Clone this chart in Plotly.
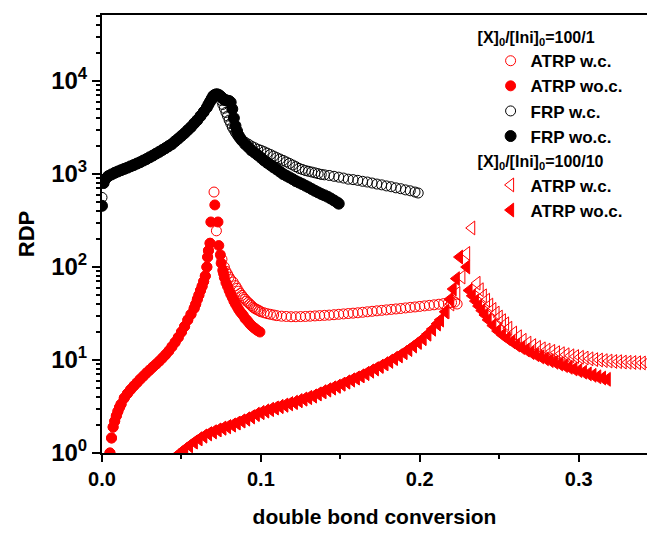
import plotly.graph_objects as go

# ---------------- data ----------------
# shared rising part of the FRP curves (100/1)
frp_rise_x = [0.001, 0.002, 0.004, 0.006, 0.008, 0.010, 0.012, 0.014, 0.016, 0.018, 0.020, 0.022,
              0.024, 0.026, 0.028, 0.030, 0.032, 0.034, 0.036, 0.038, 0.040, 0.042, 0.044, 0.046,
              0.048, 0.050, 0.052, 0.054, 0.056, 0.058, 0.060, 0.062, 0.064, 0.066, 0.067, 0.068,
              0.069, 0.070, 0.071, 0.072]
frp_rise_y = [800, 880, 950, 990, 1030, 1065, 1100, 1135, 1170, 1210, 1250, 1295,
              1340, 1395, 1450, 1515, 1580, 1655, 1730, 1815, 1900, 2000, 2100, 2250,
              2400, 2570, 2750, 2970, 3200, 3500, 3800, 4200, 4650, 5200, 5600, 6000,
              6450, 6900, 7100, 7200]

# FRP wo.c. (filled black)
frp_woc_x = [0.000] + frp_rise_x + [
    0.073, 0.074, 0.075, 0.076, 0.077, 0.078, 0.079, 0.080, 0.081, 0.082, 0.083, 0.084,
    0.085, 0.086, 0.087, 0.088, 0.090, 0.092, 0.094, 0.096, 0.098, 0.100, 0.102, 0.104,
    0.106, 0.108, 0.110, 0.112, 0.114, 0.116, 0.118, 0.120, 0.122, 0.124, 0.126, 0.128,
    0.130, 0.132, 0.134, 0.136, 0.138, 0.140, 0.142, 0.144, 0.146, 0.148, 0.149]
frp_woc_y = [455] + frp_rise_y + [
    7150, 7000, 6750, 6500, 6300, 6200, 6150, 6100, 5900, 5000, 4000, 3300,
    2900, 2600, 2430, 2300, 2100, 1950, 1800, 1700, 1600, 1500, 1400, 1320,
    1250, 1180, 1120, 1060, 1000, 960, 920, 880, 840, 810, 780, 750,
    720, 690, 660, 635, 610, 590, 570, 545, 520, 495, 480]

# FRP w.c. (open black)
frp_wc_x = [0.000] + frp_rise_x + [
    0.073, 0.074, 0.075, 0.076, 0.077, 0.078, 0.079, 0.080, 0.081, 0.082, 0.083, 0.084,
    0.085, 0.086, 0.088, 0.090, 0.092, 0.094, 0.096, 0.098, 0.100, 0.102, 0.104, 0.106,
    0.108, 0.110, 0.112, 0.114, 0.116, 0.118, 0.120, 0.122, 0.124, 0.126, 0.128, 0.130,
    0.132, 0.134, 0.136, 0.138, 0.140, 0.143, 0.146, 0.149, 0.152, 0.155, 0.158, 0.161,
    0.164, 0.167, 0.170, 0.173, 0.176, 0.179, 0.182, 0.185, 0.188, 0.191, 0.194, 0.197,
    0.199]
frp_wc_y = [560] + frp_rise_y + [
    7100, 6800, 6200, 5600, 5100, 4600, 4200, 3800, 3500, 3200, 3000, 2800,
    2650, 2500, 2330, 2200, 2100, 2000, 1920, 1850, 1800, 1740, 1680, 1620,
    1560, 1500, 1450, 1400, 1350, 1300, 1250, 1200, 1150, 1120, 1090, 1070,
    1050, 1030, 1010, 990, 980, 965, 945, 925, 905, 880, 870, 855,
    835, 820, 800, 780, 765, 745, 730, 710, 695, 675, 660, 640,
    625]

# shared rising part of the ATRP curves (100/1)
atrp1_rise_x = [0.005, 0.006, 0.007, 0.008, 0.009, 0.010, 0.011, 0.012, 0.014, 0.016, 0.018, 0.020,
                0.022, 0.024, 0.026, 0.028, 0.030, 0.032, 0.034, 0.036, 0.038, 0.040, 0.042, 0.044,
                0.046, 0.048, 0.050, 0.052, 0.054, 0.056, 0.058, 0.059, 0.060, 0.061, 0.062, 0.063,
                0.064, 0.065, 0.066, 0.0665, 0.067, 0.068]
atrp1_rise_y = [1.0, 1.45, 1.9, 2.2, 2.5, 2.8, 3.1, 3.35, 3.9, 4.35, 4.8, 5.25,
                5.7, 6.2, 6.7, 7.25, 7.8, 8.4, 9.0, 9.7, 10.5, 11.4, 12.5, 13.9,
                15.5, 17.5, 20, 23, 27, 31, 36, 40, 45, 50, 56, 62,
                70, 80, 100, 128, 150, 180]

# ATRP wo.c. 100/1 (filled red circles)
atrp1_woc_x = atrp1_rise_x + [
    0.0685, 0.071, 0.073, 0.0735, 0.0745, 0.075, 0.076, 0.0765, 0.077, 0.078, 0.079, 0.080,
    0.081, 0.082, 0.083, 0.084, 0.085, 0.086, 0.087, 0.088, 0.089, 0.090, 0.091, 0.092,
    0.093, 0.094, 0.095, 0.096, 0.097, 0.098, 0.0994]
atrp1_woc_y = atrp1_rise_y + [
    305, 465, 305, 170, 135, 110, 92, 85, 77, 68, 62, 56,
    51, 47, 43, 40, 37.5, 35, 33, 31.5, 30, 28, 27, 25.8,
    24.5, 23.5, 22.7, 22, 21.3, 20.7, 20]

# ATRP w.c. 100/1 (open red circles)
atrp1_wc_x = atrp1_rise_x + [
    0.0705, 0.072, 0.0755, 0.077, 0.078, 0.079, 0.080, 0.081, 0.0825, 0.084, 0.085, 0.086,
    0.087, 0.088, 0.089, 0.090, 0.091, 0.092, 0.093, 0.094, 0.095, 0.096, 0.097, 0.098,
    0.099, 0.100, 0.102, 0.104, 0.106, 0.108, 0.110, 0.113, 0.116, 0.119, 0.122, 0.125,
    0.128, 0.131, 0.134, 0.137, 0.140, 0.143, 0.146, 0.149, 0.152, 0.155, 0.158, 0.161,
    0.164, 0.167, 0.170, 0.173, 0.176, 0.179, 0.182, 0.185, 0.188, 0.191, 0.194, 0.197,
    0.200, 0.203, 0.206, 0.209, 0.212, 0.215, 0.218, 0.220, 0.222, 0.2235]
atrp1_wc_y = atrp1_rise_y + [
    640, 245, 121, 100, 90, 84, 78, 73, 69, 63, 59, 55,
    52, 49.5, 47, 45, 43, 41.5, 40, 38.5, 37, 36, 35.2, 34.5,
    33.8, 33, 32.2, 31.5, 31, 30.5, 30, 29.6, 29.4, 29.2, 29.2, 29.3,
    29.4, 29.6, 29.8, 30, 30.2, 30.4, 30.7, 31, 31.3, 31.6, 31.9, 32.2,
    32.6, 33, 33.4, 33.8, 34.2, 34.6, 35, 35.4, 35.8, 36.3, 36.8, 37.2,
    37.7, 38.2, 38.7, 39.2, 39.8, 40.4, 41, 41.5, 42, 40]

# shared rising part of the ATRP curves (100/10)
atrp10_rise_x = [0.049, 0.052, 0.055, 0.058, 0.061, 0.064, 0.067, 0.070, 0.073, 0.076, 0.079, 0.082,
                 0.085, 0.088, 0.091, 0.094, 0.097, 0.100, 0.103, 0.106, 0.109, 0.112, 0.115, 0.118,
                 0.121, 0.124, 0.127, 0.130, 0.133, 0.136, 0.139, 0.142, 0.145, 0.148, 0.151, 0.154,
                 0.157, 0.160, 0.163, 0.166, 0.169, 0.172, 0.175, 0.178, 0.181, 0.184, 0.187, 0.190,
                 0.193, 0.196, 0.199, 0.202, 0.205, 0.208, 0.211, 0.213]
atrp10_rise_y = [1.0, 1.1, 1.2, 1.31, 1.42, 1.52, 1.61, 1.69, 1.77, 1.85, 1.92, 2.0,
                 2.1, 2.21, 2.32, 2.45, 2.6, 2.72, 2.83, 2.94, 3.05, 3.16, 3.27, 3.39,
                 3.5, 3.65, 3.8, 3.95, 4.1, 4.32, 4.55, 4.77, 5.0, 5.22, 5.5, 5.8,
                 6.1, 6.4, 6.75, 7.15, 7.6, 8.05, 8.55, 9.1, 9.7, 10.4, 11.1, 12.0,
                 13.0, 14.2, 15.5, 17.0, 19.0, 21.5, 24.5, 27]

# ATRP wo.c. 100/10 (filled red triangles)
atrp10_woc_x = atrp10_rise_x + [
    0.216, 0.219, 0.221, 0.223, 0.225, 0.2295, 0.231, 0.233, 0.235, 0.237, 0.239, 0.241,
    0.243, 0.246, 0.249, 0.252, 0.255, 0.258, 0.261, 0.264, 0.267, 0.270, 0.273, 0.276,
    0.279, 0.282, 0.285, 0.288, 0.291, 0.294, 0.297, 0.300, 0.303, 0.306, 0.309, 0.312,
    0.315, 0.318]
atrp10_woc_y = atrp10_rise_y + [
    33, 45, 58, 75, 128, 100, 56, 49, 43, 38, 34, 30.5,
    27, 23.5, 20.5, 18.5, 17, 15.7, 14.5, 13.6, 12.8, 12.0, 11.4, 10.8,
    10.3, 9.85, 9.45, 9.05, 8.7, 8.35, 8.0, 7.7, 7.4, 7.1, 6.85, 6.6,
    6.4, 6.2]

# ATRP w.c. 100/10 (open red triangles)
atrp10_wc_x = atrp10_rise_x + [
    0.2165, 0.2195, 0.2233, 0.2265, 0.2295, 0.2327, 0.236, 0.238, 0.240, 0.242, 0.244, 0.246,
    0.248, 0.250, 0.252, 0.254, 0.256, 0.259, 0.262, 0.265, 0.268, 0.271, 0.274, 0.277,
    0.280, 0.283, 0.286, 0.289, 0.292, 0.295, 0.298, 0.301, 0.304, 0.307, 0.310, 0.313,
    0.316, 0.319, 0.322, 0.325, 0.328, 0.331, 0.334, 0.337, 0.340, 0.343]
atrp10_wc_y = atrp10_rise_y + [
    33, 40, 52, 78, 140, 263, 67, 57, 49, 44, 39, 35,
    32, 29, 26.5, 24.5, 22, 19.5, 17.8, 16.3, 15.2, 14.3, 13.7, 13.2,
    12.8, 12.4, 12.0, 11.7, 11.4, 11.1, 10.9, 10.7, 10.5, 10.3, 10.1, 10.0,
    9.85, 9.75, 9.65, 9.6, 9.5, 9.45, 9.4, 9.35, 9.3, 9.25]

y_tickvals = [1, 10, 100, 1000, 10000]
y_ticktext = ["10<sup>0</sup>", "10<sup>1</sup>", "10<sup>2</sup>", "10<sup>3</sup>", "10<sup>4</sup>"]
x_tickvals = [0.0, 0.1, 0.2, 0.3]
x_ticktext = ["0.0", "0.1", "0.2", "0.3"]
x_minor = [0.05, 0.15, 0.25]

g1 = "[X]<sub>0</sub>/[Ini]<sub>0</sub>=100/1"
g2 = "[X]<sub>0</sub>/[Ini]<sub>0</sub>=100/10"

RED = "#ff0000"
BLACK = "#000000"
FONT = "Liberation Sans, Arial, sans-serif"

fig = go.Figure()


def add(x, y, name, symbol, color, size, group, gtitle=None):
    tr = go.Scatter(
        x=x, y=y, mode="markers", name=name, legendgroup=group,
        marker=dict(symbol=symbol, color=color, size=size,
                    line=dict(color=color, width=1)),
    )
    if gtitle:
        tr.legendgrouptitle = dict(text=gtitle, font=dict(family=FONT, size=16, color="black", weight="bold"))
    fig.add_trace(tr)


add(atrp1_wc_x, atrp1_wc_y, "ATRP w.c.", "circle-open", RED, 10, "g1", g1)
add(atrp1_woc_x, atrp1_woc_y, "ATRP wo.c.", "circle", RED, 10, "g1")
add(frp_wc_x, frp_wc_y, "FRP w.c.", "circle-open", BLACK, 10, "g1")
add(frp_woc_x, frp_woc_y, "FRP wo.c.", "circle", BLACK, 11, "g1")
add(atrp10_wc_x, atrp10_wc_y, "ATRP w.c.", "triangle-left-open", RED, 12, "g2", g2)
add(atrp10_woc_x, atrp10_woc_y, "ATRP wo.c.", "triangle-left", RED, 12, "g2")

minor_y = []
for d in [1, 10, 100, 1000, 10000]:
    for m in range(2, 10):
        v = d * m
        if v < 10 ** 4.71:
            minor_y.append(v)

fig.update_layout(
    width=647, height=536,
    margin=dict(l=102, r=0, t=15, b=83),
    paper_bgcolor="white", plot_bgcolor="white",
    font=dict(family=FONT, color="black"),
    showlegend=True,
    legend=dict(
        x=0.68, y=0.99, xanchor="left", yanchor="top",
        bgcolor="rgba(0,0,0,0)", borderwidth=0,
        font=dict(family=FONT, size=17, color="black", weight="bold"),
        tracegroupgap=0, itemsizing="trace", groupclick="toggleitem",
        indentation=18,
    ),
    xaxis=dict(
        range=[0, 0.343], showgrid=False, zeroline=False,
        showline=True, linecolor="black", linewidth=2, mirror=True,
        ticks="outside", ticklen=7, tickwidth=2, tickcolor="black",
        tickvals=x_tickvals, ticktext=x_ticktext,
        tickfont=dict(family=FONT, size=20, color="black", weight="bold"),
        minor=dict(tickvals=x_minor, ticks="outside", ticklen=4, tickwidth=2, tickcolor="black", showgrid=False),
        title=dict(text="double bond conversion", font=dict(family=FONT, size=21, color="black", weight="bold"), standoff=20),
    ),
    yaxis=dict(
        type="log", range=[0, 4.71], showgrid=False, zeroline=False,
        showline=True, linecolor="black", linewidth=2, mirror=False,
        ticks="outside", ticklen=8, tickwidth=2, tickcolor="black",
        tickvals=y_tickvals, ticktext=y_ticktext,
        tickfont=dict(family=FONT, size=24, color="black", weight="bold"),
        minor=dict(tickvals=minor_y, ticks="outside", ticklen=4, tickwidth=1.5, tickcolor="black", showgrid=False),
        title=dict(text="RDP", font=dict(family=FONT, size=22, color="black", weight="bold"), standoff=10),
    ),
)

fig.write_html("out.html")
